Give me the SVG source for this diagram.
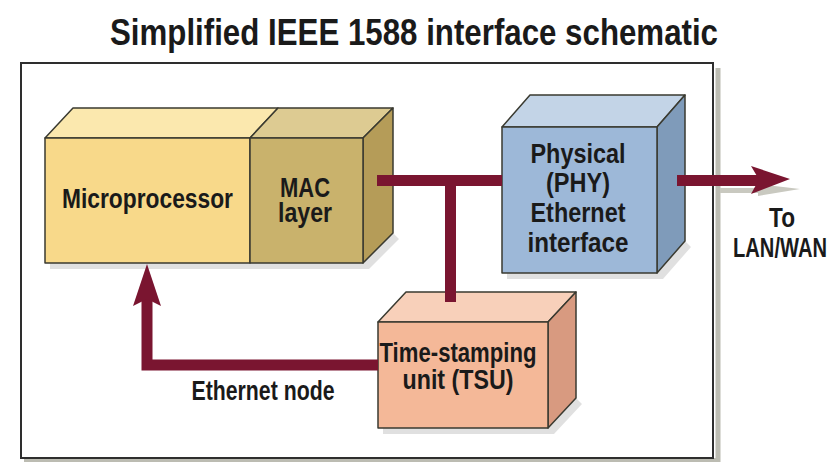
<svg xmlns="http://www.w3.org/2000/svg" width="838" height="462" viewBox="0 0 838 462">
  <style>
    text { font-family: "Liberation Sans", Arial, sans-serif; font-weight: bold; fill: #1a1a1a; }
    .title { font-size: 37px; }
    .lbl { font-size: 27px; text-anchor: middle; }
    .edge { stroke: #3a3a30; stroke-width: 1.5; stroke-linejoin: round; }
    .wire { fill: none; stroke: #7a1530; stroke-width: 11; }
    .head { fill: #7a1530; }
    .shadow { fill: #000; opacity: 0.12; }
    .ghost { fill: none; stroke: #c9c9c0; stroke-width: 5; }
  </style>

  <rect width="838" height="462" fill="#ffffff"/>

  <!-- heading -->
  <text class="title" x="110" y="45" textLength="608" lengthAdjust="spacingAndGlyphs">Simplified IEEE 1588 interface schematic</text>

  <!-- enclosing frame of the Ethernet node -->
  <g id="frame">
    <path d="M718,68 V462 M24,460.5 H718" fill="none" stroke="#bcbcb2" stroke-width="5"/>
    <rect x="21" y="63" width="692" height="395" fill="none" stroke="#2e2e2e" stroke-width="2"/>
  </g>

  <!-- microprocessor + MAC layer block -->
  <g id="microprocessor">
    <polygon class="shadow" points="50,263 363,263 393,233 399,239 369,269 50,269"/>
    <polygon class="edge" points="45,138 73,108 278,108 250,138" fill="#fbe8ae"/>
    <rect class="edge" x="45" y="138" width="205" height="125" fill="#f8d98a"/>
    <text class="lbl" x="147.5" y="208" textLength="171" lengthAdjust="spacingAndGlyphs">Microprocessor</text>
  </g>
  <g id="mac">
    <polygon class="edge" points="250,138 278,108 393,108 363,138" fill="#ddcb92"/>
    <polygon class="edge" points="363,138 393,108 393,233 363,263" fill="#b59c58"/>
    <rect class="edge" x="250" y="138" width="113" height="125" fill="#c9b26c"/>
    <text class="lbl" x="305" y="197" textLength="50" lengthAdjust="spacingAndGlyphs">MAC</text>
    <text class="lbl" x="305" y="222" textLength="54" lengthAdjust="spacingAndGlyphs">layer</text>
  </g>

  <!-- physical layer block -->
  <g id="phy">
    <polygon class="shadow" points="507,273 657,273 685,241 691,247 663,279 507,279"/>
    <polygon class="edge" points="502,127 530,95 685,95 657,127" fill="#c3d4e7"/>
    <polygon class="edge" points="657,127 685,95 685,241 657,273" fill="#7f9bba"/>
    <rect class="edge" x="502" y="127" width="155" height="146" fill="#9db8d8"/>
    <text class="lbl" x="578" y="163" textLength="95" lengthAdjust="spacingAndGlyphs">Physical</text>
    <text class="lbl" x="578" y="192" textLength="64" lengthAdjust="spacingAndGlyphs">(PHY)</text>
    <text class="lbl" x="578" y="222" textLength="95" lengthAdjust="spacingAndGlyphs">Ethernet</text>
    <text class="lbl" x="578" y="252" textLength="101" lengthAdjust="spacingAndGlyphs">interface</text>
  </g>

  <!-- time-stamping unit block -->
  <g id="tsu">
    <polygon class="shadow" points="383,428 548,428 576,398 582,404 554,434 383,434"/>
    <polygon class="edge" points="378,322 406,292 576,292 548,322" fill="#f8d0ba"/>
    <polygon class="edge" points="548,322 576,292 576,398 548,428" fill="#d89a80"/>
    <rect class="edge" x="378" y="322" width="170" height="106" fill="#f4b898"/>
    <text class="lbl" x="458" y="362" textLength="157" lengthAdjust="spacingAndGlyphs">Time-stamping</text>
    <text class="lbl" x="458" y="389" textLength="111" lengthAdjust="spacingAndGlyphs">unit (TSU)</text>
  </g>

  <!-- signal paths -->
  <g id="connectors">
    <path class="wire" d="M377,180.5 H502"/>
    <path class="wire" d="M450.5,180 V302"/>
    <path class="wire" d="M378,365 H147 V298"/>
    <polygon class="head" points="147,264 161,306 147,299 133,306"/>
    <!-- soft drop shadow of the outgoing arrow -->
    <path class="ghost" d="M720,190.5 H770"/>
    <polygon fill="#c9c9c0" points="758,184 800,189 758,196"/>
    <path class="wire" d="M677,180.5 H762"/>
    <polygon class="head" points="790,179 751,166 759,179.5 751,194"/>
  </g>

  <!-- free labels -->
  <text class="lbl" x="782" y="227" textLength="26" lengthAdjust="spacingAndGlyphs">To</text>
  <text class="lbl" x="780" y="257" textLength="94" lengthAdjust="spacingAndGlyphs">LAN/WAN</text>
  <text class="lbl" x="263" y="400" textLength="143" lengthAdjust="spacingAndGlyphs">Ethernet node</text>
</svg>
